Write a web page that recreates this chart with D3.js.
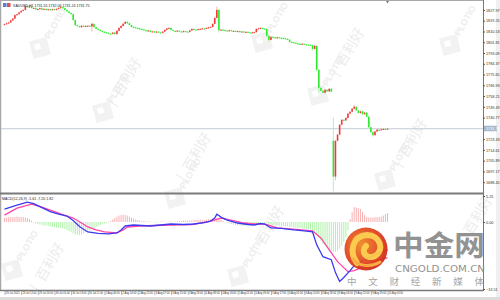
<!DOCTYPE html>
<html><head><meta charset="utf-8">
<script src="https://cdn.jsdelivr.net/npm/d3@7"></script>
<style>html,body{margin:0;padding:0;background:#fff;overflow:hidden}</style>
</head><body>
<svg id="c" width="500" height="300" xmlns="http://www.w3.org/2000/svg"></svg>
<script>
// ---------- DATA ----------
const closes = [
1816.5,1817.2,1817.8,1819.5,1821.0,1823.8,1824.5,1826.0,1827.2,1828.0,
1831.0,1830.2,1830.8,1829.5,1829.6,1828.4,1828.7,1829.4,1828.3,1828.8,
1828.2,1828.5,1828.0,1828.6,1828.1,1828.8,1829.6,1830.2,1829.4,1828.0,
1826.8,1825.5,1824.5,1819.8,1815.6,1814.8,1814.0,1815.2,1814.6,1815.0,
1815.2,1814.6,1816.7,1814.0,1812.6,1811.8,1811.0,1810.2,1809.8,1809.4,
1808.8,1808.6,1809.6,1808.4,1811.0,1813.4,1815.0,1816.8,1818.3,1817.2,
1815.8,1814.2,1813.8,1813.4,1813.0,1812.6,1812.2,1811.5,1811.0,1811.3,
1810.2,1810.6,1810.0,1810.4,1809.8,1809.4,1810.4,1811.8,1813.0,1813.4,
1811.8,1811.0,1810.6,1811.2,1810.5,1810.2,1810.8,1810.4,1810.2,1811.4,
1812.6,1812.0,1811.8,1812.4,1812.6,1813.0,1812.8,1813.4,1813.8,1814.2,
1816.7,1821.5,1828.0,1811.5,1812.0,1811.8,1811.2,1811.0,1811.5,1811.0,
1811.0,1810.6,1810.8,1810.2,1810.5,1810.0,1810.2,1809.8,1809.4,1809.8,
1810.0,1812.6,1813.0,1813.4,1812.8,1812.6,1807.0,1803.7,1806.2,1805.6,
1805.3,1805.8,1805.4,1805.2,1805.0,1804.5,1803.8,1802.1,1801.8,1801.3,
1800.8,1800.5,1800.2,1800.6,1800.0,1799.8,1799.7,1799.4,1796.4,1798.9,
1779.5,1764.9,1762.5,1760.9,1763.3,1762.0,1764.1,1761.7,
1693.0,1722.0,1727.0,1735.0,1739.0,1738.5,1740.5,1744.0,1745.5,1748.0,
1749.6,1746.5,1744.5,1745.8,1743.5,1744.8,1741.5,1733.0,1729.0,1726.5,
1729.5,1731.0,1730.6,1731.2,1731.6,1731.3,1731.75
];
const firstOpen = 1816.0;
const gapOpens = {158: 1722.0};
const highs = {10:1832.4, 42:1817.6, 101:1822.5, 102:1830.6, 103:1829.0, 149:1799.8, 150:1799.2, 158:1741.0, 168:1751.0};
const lows  = {42:1810.4, 103:1809.6, 126:1806.0, 127:1802.0, 148:1795.0, 150:1778.0, 151:1760.8, 158:1680.9, 159:1690.0, 177:1725.3};

const histValues = [
0.8,0.9,1.0,1.0,1.0,1.0,1.1,1.0,1.0,1.0,0.9,0.8,0.6,0.3,
-0.1,-0.3,-0.4,-0.5,-0.6,-0.7,-0.7,-0.8,-0.9,-1.0,-1.0,-1.1,-1.2,-1.2,-1.3,-1.4,
-1.6,-1.8,-2.0,-2.3,-2.5,-2.6,-2.6,-2.5,-2.3,-2.0,-1.8,-1.6,-1.4,-1.2,-1.0,-0.8,
-0.6,-0.4,-0.3,-0.2,-0.1,0.2,0.5,0.8,
1.1,1.3,1.4,1.5,1.4,1.3,1.1,0.9,0.7,0.5,0.4,0.3,
0.2,0.2,0.1,0.1,0.1,0.0,-0.1,-0.1,0.0,0.1,0.1,0.0,0.0,0.1,0.1,
0.1,0.1,0.2,0.2,0.2,0.3,0.3,0.3,0.3,0.3,0.4,0.4,0.4,0.5,
0.4,0.4,0.5,0.5,0.5,0.6,0.7,0.8,0.7,0.5,
0.2,0.0,-0.2,-0.3,-0.4,-0.5,-0.6,-0.7,-0.7,-0.8,-0.8,-0.8,-0.7,-0.6,-0.5,-0.4,
-0.3,-0.2,-0.1,-0.1,-0.1,-0.2,
-0.4,-0.5,-0.6,-0.7,-0.7,-0.8,-0.8,-0.8,-0.9,-0.9,-1.0,-1.0,-1.1,-1.1,-1.2,-1.2,-1.3,-1.3,-1.4,-1.4,-1.5,
-1.6,-1.9,-2.5,-3.2,-3.8,-4.4,-4.8,-5.2,-5.6,-5.9,
-6.0,-6.0,-5.8,-5.4,-4.8,-4.0,-3.0,-1.6,0.6,2.0,
3.0,2.9,2.8,2.6,2.0,1.4,1.0,0.9,0.9,0.9,1.0,1.0,1.0,1.1,1.3,1.6,1.8
];
const macdMain = [[0,2.6],[6,3.4],[11,4.0],[14,3.7],[18,2.9],[22,2.1],[26,1.6],[30,1.2],[33,0.3],[36,-0.9],[40,-2.0],[45,-2.3],[50,-2.4],[54,-2.2],[56,-1.6],[58,-0.8],[62,-0.6],[66,-0.7],[70,-0.8],[75,-0.6],[80,-0.4],[86,-0.5],[91,-0.4],[96,-0.1],[99,0.2],[101,0.8],[102,1.6],[104,1.0],[107,0.4],[112,-0.2],[117,-0.5],[120,-0.6],[123,-0.3],[125,-0.4],[128,-1.2],[133,-1.3],[139,-1.6],[144,-1.8],[148,-2.0],[150,-4.6],[153,-7.0],[157,-7.6],[159,-10.2],[161,-12.0],[163,-11.2],[166,-9.8],[168,-8.8],[172,-7.8],[176,-7.0],[180,-6.3],[184,-5.6]];
const macdSignal = [[0,1.4],[6,2.8],[13,3.6],[18,3.0],[22,2.4],[28,1.5],[33,0.8],[37,-0.2],[40,-1.0],[44,-1.6],[48,-2.0],[54,-2.2],[57,-1.6],[59,-1.0],[65,-0.8],[72,-0.7],[80,-0.6],[90,-0.5],[98,0.1],[104,0.8],[110,0.3],[115,-0.2],[120,-0.4],[125,-0.4],[131,-1.2],[140,-1.5],[148,-1.8],[152,-3.2],[155,-5.0],[160,-8.0],[165,-10.0],[168,-9.8],[172,-9.1],[176,-8.4],[180,-7.8],[184,-7.2]];

const priceTicks = [1827.97,1819.25,1810.53,1801.81,1793.09,1784.37,1775.65,1766.93,1758.21,1749.49,1740.77,1723.33,1714.61,1705.89,1697.17,1688.45];
const macdTicks = [5.25, 0.00, -13.51];
const timeLabels = ["29 Jul 2021","29 Jul 12:00","29 Jul 20:00","30 Jul 05:00","30 Jul 13:00","30 Jul 21:00","2 Aug 06:00","2 Aug 14:00","2 Aug 22:00","3 Aug 07:00","3 Aug 15:00","3 Aug 23:00","4 Aug 08:00","4 Aug 16:00","5 Aug 01:00","5 Aug 09:00","5 Aug 17:00","6 Aug 02:00","6 Aug 10:00","6 Aug 18:00","9 Aug 03:00","9 Aug 11:00","9 Aug 19:00","10 Aug 04:00"];
const labelStep = 8;
const lastPrice = 1731.75;
const titleText = "XAUUSD,H1  1731.55 1732.06 1731.24 1731.75";
const macdTitle = "MACD(12,26,9) -5.61 -7.20 1.82";

// ---------- BUILD ----------
const bars = closes.map((c,i)=>{
  const o = gapOpens[i] !== undefined ? gapOpens[i] : (i===0 ? firstOpen : closes[i-1]);
  const h = highs[i] !== undefined ? highs[i] : Math.max(o,c)+0.5;
  const l = lows[i] !== undefined ? lows[i] : Math.min(o,c)-0.5;
  return {i,o,h,l,c};
});

const svg = d3.select("#c");
const font = "'Liberation Sans', Arial, sans-serif";
const AX = 483; // right axis x

const x = d3.scaleLinear().domain([0, closes.length-1]).range([4.5, 387.5]);
const y = d3.scaleLinear().domain([1680.5, 1834.4]).range([192, 2]);
const ym = d3.scaleLinear().domain([-13.51, 5.25]).range([289, 196]);

svg.append("rect").attr("width",500).attr("height",300).attr("fill","#fff");

// ---------- watermarks ----------
const wm = svg.append("g");
const logos = [[40,48],[103,112],[175,198],[238,276],[262,42],[318,95],[385,180],[450,45],[12,270]];
logos.forEach(([lx,ly])=>{
  const g = wm.append("g").attr("transform",`translate(${lx},${ly}) rotate(-60)`);
  g.append("rect").attr("x",-9).attr("y",-9).attr("width",18).attr("height",18)
    .attr("transform","rotate(45)").attr("fill","#f2f2f2");
  g.append("rect").attr("x",-3).attr("y",-3).attr("width",6).attr("height",6)
    .attr("transform","rotate(45) translate(-2,-2)").attr("fill","#fff");
  g.append("text").attr("x",12).attr("y",4).attr("font-family",font).attr("font-weight","bold")
    .attr("font-size",9).attr("fill","#ededed").text("PLOTIO");
});
const wtexts = [[127,77],[197,152],[270,225],[350,47],[413,138],[50,262],[478,215]];
wtexts.forEach(([tx,ty])=>{
  const g = wm.append("g").attr("transform",`translate(${tx},${ty}) rotate(-60)`);
  g.append("text").attr("text-anchor","middle").attr("y",5).attr("font-family","'Noto Sans CJK SC'")
    .attr("font-size",14).attr("fill","#ececec").text("百利好");
  g.append("line").attr("x1",-30).attr("x2",-30).attr("y1",-7).attr("y2",7).attr("stroke","#eeeeee");
});

// ---------- frames ----------
svg.append("line").attr("x1",0.5).attr("x2",0.5).attr("y1",0).attr("y2",291).attr("stroke","#a8a8a8").attr("stroke-width",1.5);
svg.append("line").attr("x1",0).attr("x2",AX).attr("y1",0.5).attr("y2",0.5).attr("stroke","#a8a8a8");
svg.append("line").attr("x1",0).attr("x2",AX).attr("y1",193.5).attr("y2",193.5).attr("stroke","#7a7a7a").attr("stroke-width",2);
svg.append("line").attr("x1",0).attr("x2",AX).attr("y1",290.5).attr("y2",290.5).attr("stroke","#7a7a7a").attr("stroke-width",1.5);
svg.append("line").attr("x1",AX+0.5).attr("x2",AX+0.5).attr("y1",0).attr("y2",291).attr("stroke","#555").attr("stroke-width",0.8);
svg.append("rect").attr("x",0).attr("y",297).attr("width",500).attr("height",3).attr("fill","#dcdcdc");
svg.append("rect").attr("x",496).attr("y",0).attr("width",4).attr("height",297).attr("fill","#f0f0f0");
// chart shift marker
svg.append("path").attr("d",`M${x(closes.length-1)-1.5},1 L${x(closes.length-1)+1.5},1 L${x(closes.length-1)},3.5 Z`).attr("fill","#777");

// current price line
svg.append("line").attr("x1",1).attr("x2",AX).attr("y1",y(lastPrice)).attr("y2",y(lastPrice))
  .attr("stroke","#c3ccd6").attr("stroke-width",1);

// ---------- candles ----------
const UP="#f03a3a", DN="#2ee82e", UPW="#f7a3a3", DNW="#9ef29e";
const cg = svg.append("g");
cg.selectAll("line.w").data(bars).join("line").attr("class","w")
  .attr("x1",d=>x(d.i)).attr("x2",d=>x(d.i)).attr("y1",d=>y(d.h)).attr("y2",d=>y(d.l))
  .attr("stroke",d=>d.c>=d.o?UPW:DNW).attr("stroke-width",0.8);
cg.selectAll("rect.b").data(bars).join("rect").attr("class","b")
  .attr("x",d=>x(d.i)-0.8).attr("width",1.6)
  .attr("y",d=>y(Math.max(d.o,d.c)))
  .attr("height",d=>Math.max(1, Math.abs(y(d.o)-y(d.c))))
  .attr("fill",d=>d.c>=d.o?UP:DN);

// ---------- price axis ----------
const pa = svg.append("g").attr("transform",`translate(${AX},0)`)
  .call(d3.axisRight(y).tickValues(priceTicks).tickSize(2).tickPadding(1).tickFormat(d3.format(".2f")));
pa.select(".domain").remove();
pa.selectAll("text").attr("font-family",font).attr("font-size",3.8).attr("fill","#333");
pa.selectAll("line").attr("stroke","#555");
// last price box
svg.append("rect").attr("x",AX+1).attr("y",y(lastPrice)-3).attr("width",13).attr("height",5.5).attr("fill","#a9b8c8");
svg.append("text").attr("x",AX+3).attr("y",y(lastPrice)+1.3).attr("font-family",font).attr("font-size",3.8).attr("fill","#fff").text(d3.format(".2f")(lastPrice));

// ---------- MACD ----------
const hg = svg.append("g");
hg.selectAll("line").data(histValues.map((v,i)=>({i,v}))).join("line")
  .attr("x1",d=>x(d.i)).attr("x2",d=>x(d.i)).attr("y1",ym(0)).attr("y2",d=>ym(d.v))
  .attr("stroke",d=>d.v>=0?"#f7a8a8":"#a6f0a0").attr("stroke-width",0.9);
const ln = d3.line().x(d=>x(d[0])).y(d=>ym(d[1]));
svg.append("path").datum(macdSignal).attr("d",ln).attr("fill","none").attr("stroke","#ff45a8").attr("stroke-width",1.3);
svg.append("path").datum(macdMain).attr("d",ln).attr("fill","none").attr("stroke","#3a3af0").attr("stroke-width",1.3);

const ma = svg.append("g").attr("transform",`translate(${AX},0)`)
  .call(d3.axisRight(ym).tickValues(macdTicks).tickSize(2).tickPadding(1).tickFormat(d3.format(".2f")));
ma.select(".domain").remove();
ma.selectAll("text").attr("font-family",font).attr("font-size",3.8).attr("fill","#333");
ma.selectAll("line").attr("stroke","#555");

// ---------- time axis ----------
const tIdx = timeLabels.map((t,k)=>k*labelStep);
const ta = svg.append("g").attr("transform","translate(0,291)")
  .call(d3.axisBottom(x).tickValues(tIdx).tickSize(4).tickFormat((d,k)=>timeLabels[k]));
ta.select(".domain").remove();
ta.selectAll("line").attr("stroke","#666").attr("stroke-width",0.5);
ta.selectAll("text").attr("font-family",font).attr("font-size",3).attr("fill","#333")
  .attr("text-anchor","start").attr("dx",0.8).attr("dy",-3.6)
  .attr("textLength",14).attr("lengthAdjust","spacingAndGlyphs");

// ---------- titles ----------
svg.append("rect").attr("x",3).attr("y",3).attr("width",3.5).attr("height",4).attr("fill","#5b7fd6");
svg.append("rect").attr("x",7).attr("y",3).attr("width",3.5).attr("height",4).attr("fill","#e05050");
svg.append("text").attr("x",13).attr("y",7).attr("font-family",font).attr("font-size",3.6).attr("fill","#222").text(titleText);
svg.append("text").attr("x",2).attr("y",200).attr("font-family",font).attr("font-size",3.6).attr("fill","#222").text(macdTitle);

// ---------- 中金网 logo ----------
const lg = svg.append("g").attr("opacity",0.95);
const defs = svg.append("defs");
const rg = defs.append("radialGradient").attr("id","lgr").attr("cx","40%").attr("cy","40%").attr("r","65%");
rg.append("stop").attr("offset","0%").attr("stop-color","#f08a24");
rg.append("stop").attr("offset","70%").attr("stop-color","#e0401f");
rg.append("stop").attr("offset","100%").attr("stop-color","#cf2a1c");
lg.append("circle").attr("cx",366).attr("cy",249).attr("r",21.5).attr("fill","url(#lgr)");
lg.append("path").attr("d","M357,263 C349,252 352,236 367,235 C380,235 385,250 375,256 C367,260 360,252 366,246")
  .attr("fill","none").attr("stroke","#fbc846").attr("stroke-width",6).attr("stroke-linecap","round");
lg.append("path").attr("d","M353,259 C358,266 370,268 380,262")
  .attr("fill","none").attr("stroke","#f9a93a").attr("stroke-width",3).attr("stroke-linecap","round");
lg.append("text").attr("x",393).attr("y",256).attr("font-family","'Noto Sans CJK SC'").attr("font-weight","bold")
  .attr("font-size",28).attr("fill","#8d8d8d").attr("textLength",92).attr("lengthAdjust","spacingAndGlyphs").text("中金网");
lg.append("text").attr("x",395).attr("y",271.5).attr("font-family","'DejaVu Sans', sans-serif")
  .attr("font-size",8).attr("fill","#8d8d8d").attr("textLength",90).attr("lengthAdjust","spacingAndGlyphs").text("CNGOLD.COM.CN");
lg.append("text").attr("x",347).attr("y",284.5).attr("font-family","'Noto Sans CJK SC'")
  .attr("font-size",9.5).attr("fill","#a0a0a0").attr("textLength",137).text("中文财经新媒体");
</script>
</body></html>
